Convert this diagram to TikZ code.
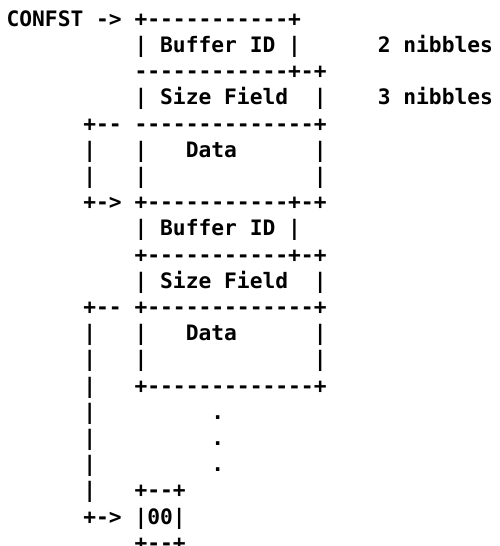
\documentclass[tikz,border=0pt]{standalone}
\usepackage{fontspec}
\setmonofont{DejaVu Sans Mono}

\begin{document}
\begin{tikzpicture}[x=12.8pt,y=-26.2pt,
   ascii/.style={font=\ttfamily\bfseries\fontsize{21.26pt}{21.26pt}\selectfont,
                 anchor=base west,inner sep=0pt,outer sep=0pt}]
  \useasboundingbox (0pt,0pt) rectangle (500pt,-546pt);
  \clip (0pt,0pt) rectangle (500pt,-546pt);
  \begin{scope}[shift={(6.6pt,-26.25pt)}]
  \node[ascii] (confst) at (0,0) {CONFST -> +-----------+};
  \node[ascii] (bufid1) at (10,1) {| Buffer ID |};
  \node[ascii] (nib2) at (29,1) {2 nibbles};
  \node[ascii] (sep1) at (10,2) {------------+-+};
  \node[ascii] (size1) at (10,3) {| Size Field\ \ |};
  \node[ascii] (nib3) at (29,3) {3 nibbles};
  \node[ascii] (loop1top) at (6,4) {+-- --------------+};
  \node[ascii] (data1) at (14,5) {Data};
  \foreach \r in {5,6} {
    \node[ascii] (loop1bar\r) at (6,\r) {|};
    \node[ascii] (data1l\r) at (10,\r) {|};
    \node[ascii] (data1r\r) at (24,\r) {|};
  }
  \node[ascii] (loop1end) at (6,7) {+-> +-----------+-+};
  \node[ascii] (bufid2) at (10,8) {| Buffer ID |};
  \node[ascii] (sep2) at (10,9) {+-----------+-+};
  \node[ascii] (size2) at (10,10) {| Size Field\ \ |};
  \node[ascii] (loop2top) at (6,11) {+-- +-------------+};
  \node[ascii] (data2) at (14,12) {Data};
  \foreach \r in {12,13} {
    \node[ascii] (data2l\r) at (10,\r) {|};
    \node[ascii] (data2r\r) at (24,\r) {|};
  }
  \foreach \r in {12,...,18}
    \node[ascii] (loop2bar\r) at (6,\r) {|};
  \node[ascii] (data2bot) at (10,14) {+-------------+};
  \foreach \r in {15,16,17}
    \node[ascii] (dot\r) at (16,\r) {.};
  \node[ascii] (endtop) at (10,18) {+--+};
  \node[ascii] (loop2end) at (6,19) {+-> |00|};
  \node[ascii] (endbot) at (10,20) {+--+};
  \end{scope}
\end{tikzpicture}
\end{document}
